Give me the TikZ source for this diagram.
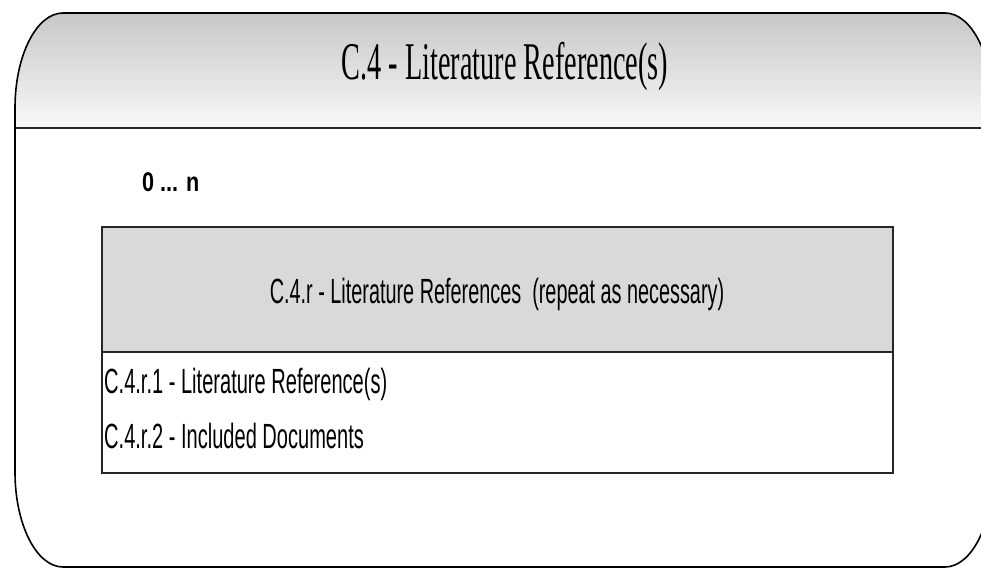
\documentclass[tikz,border=0pt]{standalone}
\usepackage{fontspec}
\setmainfont{Liberation Serif}
\newfontfamily\arialish{Liberation Sans}
\definecolor{hdrtop}{HTML}{C2C2C2}
\definecolor{hdrbot}{HTML}{F8F8F8}
\definecolor{boxgray}{HTML}{D9D9D9}
\tikzset{
  outline/.style={draw=black, line width=1.6pt},
  sectionline/.style={draw=black!85, line width=2pt},
  boxline/.style={draw=black!85, line width=1.6pt},
  titletext/.style={inner sep=0pt, font=\fontsize{53}{53}\selectfont},
  sanstext/.style={inner sep=0pt, font=\arialish\fontsize{35}{35}\selectfont},
}
\begin{document}
\begin{tikzpicture}[x=1pt,y=-1pt]
\clip (0,0) rectangle (981,569);
\fill[white] (0,0) rectangle (981,569);
% outer shape
\def\outerpath{(15,108) .. controls (15,55.5) and (36.5,13) .. (63,13) -- (945,13)
  .. controls (971.5,13) and (993,55.5) .. (993,108) -- (993,472)
  .. controls (993,524.5) and (971.5,567) .. (945,567) -- (63,567)
  .. controls (36.5,567) and (15,524.5) .. (15,472) -- cycle}
\begin{scope}
  \clip \outerpath;
  \shade[top color=hdrtop, bottom color=hdrbot] (0,0) rectangle (1000,128);
\end{scope}
\draw[sectionline] (15,128) -- (993,128);
\draw[outline] \outerpath;
\node[titletext, anchor=base] (title) at (505,80) {\scalebox{0.533}[1]{C.4 - Literature Reference(s)}};
\node[inner sep=0pt, anchor=base west, font=\arialish\bfseries\fontsize{27}{27}\selectfont] (card) at (142,192) {\scalebox{0.8}[1]{0 ... n}};
% inner box
\fill[boxgray] (102,227) rectangle (893,352);
\draw[boxline] (102,352) -- (893,352);
\draw[boxline] (102,227) rectangle (893,473);
\node[sanstext, anchor=base] (rephead) at (497,303) {\scalebox{0.567}[1]{C.4.r - Literature References\ \ (repeat as necessary)}};
\node[sanstext, anchor=base west] (item1) at (104,393) {\scalebox{0.573}[1]{C.4.r.1 - Literature Reference(s)}};
\node[sanstext, anchor=base west] (item2) at (104,448) {\scalebox{0.573}[1]{C.4.r.2 - Included Documents}};
\end{tikzpicture}
\end{document}
